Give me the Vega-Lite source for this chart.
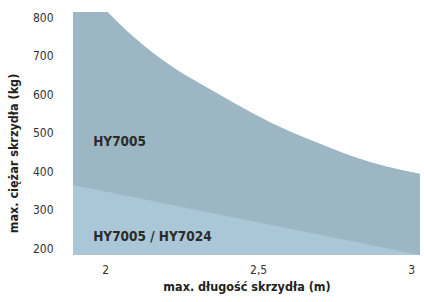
{
  "$schema": "https://vega.github.io/schema/vega-lite/v6.json",
  "width": 347,
  "height": 243,
  "autosize": "none",
  "padding": {"left": 73, "top": 12, "right": 4, "bottom": 47},
  "background": "white",
  "config": {"view": {"stroke": null}, "font": "DejaVu Sans Condensed, Roboto, sans-serif"},
  "datasets": {
    "top": [
      {"x": 1.895, "y": 908},
      {"x": 1.95, "y": 861},
      {"x": 2.01, "y": 813},
      {"x": 2.092, "y": 750},
      {"x": 2.222, "y": 670},
      {"x": 2.359, "y": 606},
      {"x": 2.484, "y": 550},
      {"x": 2.605, "y": 503},
      {"x": 2.735, "y": 461},
      {"x": 2.801, "y": 441},
      {"x": 2.931, "y": 410},
      {"x": 3.029, "y": 393}
    ],
    "split": [
      {"x": 1.895, "y": 364},
      {"x": 3.029, "y": 182}
    ],
    "labels": [
      {"x": 1.961, "y": 476, "t": "HY7005"},
      {"x": 1.961, "y": 229, "t": "HY7005 / HY7024"}
    ]
  },
  "layer": [
    {
      "data": {"name": "top"},
      "mark": {"type": "area", "color": "#9cb7c3", "clip": true, "interpolate": "monotone"},
      "encoding": {
        "x": {"field": "x", "type": "quantitative",
          "scale": {"domain": [1.895, 3.029], "nice": false, "zero": false},
          "axis": {"values": [2, 2.5, 3], "labelExpr": "replace(format(datum.value, '~g'), '.', ',')",
            "domain": false, "ticks": false, "grid": false, "labelFontSize": 12, "labelColor": "#333333",
            "labelPadding": 9, "title": "max. długość skrzydła (m)", "titleFontSize": 12.5, "titleFontWeight": "bold",
            "titleColor": "#222222", "titlePadding": 5}},
        "y": {"field": "y", "type": "quantitative",
          "scale": {"domain": [182, 814], "nice": false, "zero": false},
          "axis": {"values": [200, 300, 400, 500, 600, 700, 800],
            "domain": false, "ticks": false, "grid": false, "labelFontSize": 12, "labelColor": "#333333",
            "labelPadding": 20, "title": "max. ciężar skrzydła (kg)", "titleFontSize": 12.5, "titleFontWeight": "bold",
            "titleColor": "#222222", "titlePadding": 12, "titleY": 141}},
        "y2": {"datum": 182}
      }
    },
    {
      "data": {"name": "split"},
      "mark": {"type": "area", "color": "#aac7d7", "clip": true},
      "encoding": {
        "x": {"field": "x", "type": "quantitative"},
        "y": {"field": "y", "type": "quantitative"},
        "y2": {"datum": 182}
      }
    },
    {
      "data": {"name": "labels"},
      "mark": {"type": "text", "align": "left", "baseline": "middle", "fontSize": 13.5, "fontWeight": "bold", "color": "#2b2b2b"},
      "encoding": {
        "x": {"field": "x", "type": "quantitative"},
        "y": {"field": "y", "type": "quantitative"},
        "text": {"field": "t"}
      }
    }
  ]
}
